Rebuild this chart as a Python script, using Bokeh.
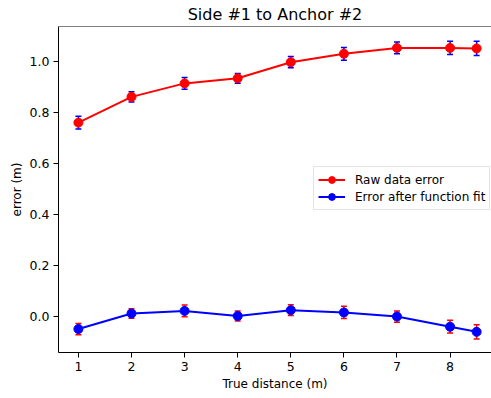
import math
from bokeh.plotting import figure
from bokeh.models import (ColumnDataSource, Whisker, TeeHead, Legend, LegendItem,
                          FixedTicker, Span)
from bokeh.embed import file_html
from bokeh.resources import INLINE

# ---- data ----
true_distance = [1, 2, 3, 4, 5, 6, 7, 8, 8.5]
raw_error = [0.761, 0.862, 0.915, 0.935, 0.998, 1.031, 1.054, 1.054, 1.052]
raw_std = [0.025, 0.020, 0.023, 0.019, 0.022, 0.025, 0.023, 0.026, 0.028]
fit_error = [-0.048, 0.013, 0.023, 0.003, 0.026, 0.017, 0.001, -0.039, -0.059]
fit_std = [0.022, 0.019, 0.023, 0.020, 0.021, 0.024, 0.022, 0.025, 0.028]
xticks = [1, 2, 3, 4, 5, 6, 7, 8]
yticks = [0.0, 0.2, 0.4, 0.6, 0.8, 1.0]
ytick_labels = ["0.0", "0.2", "0.4", "0.6", "0.8", "1.0"]
title = "Side #1 to Anchor #2"
xlabel = "True distance (m)"
ylabel = "error (m)"
series_names = ["Raw data error", "Error after function fit"]

FONT = "DejaVu Sans"
Y0, Y1 = -0.140, 1.138

p = figure(width=491, height=398, x_range=(0.625, 8.78), y_range=(Y0, Y1),
           output_backend="svg", toolbar_location=None, title=title,
           min_border_left=58, min_border_right=0, min_border_top=25,
           min_border_bottom=46)
p.background_fill_color = "white"
p.border_fill_color = "white"
p.outline_line_color = None
p.xgrid.visible = False
p.ygrid.visible = False

p.title.text_font = FONT
p.title.text_font_style = "normal"
p.title.text_font_size = "16px"
p.title.text_color = "black"
p.title.align = "center"
p.title.standoff = 5
p.title.offset = 3

for ax in (p.xaxis, p.yaxis):
    ax.axis_line_color = "black"
    ax.axis_line_width = 1
    ax.major_tick_line_color = "black"
    ax.major_tick_out = 5
    ax.major_tick_in = 0
    ax.minor_tick_line_color = None
    ax.major_label_text_font = FONT
    ax.major_label_text_font_size = "12.5px"
    ax.major_label_text_color = "black"
    ax.axis_label_text_font = FONT
    ax.axis_label_text_font_size = "12px"
    ax.axis_label_text_font_style = "normal"
    ax.axis_label_text_color = "black"
    ax.major_label_standoff = 4

p.xaxis.ticker = FixedTicker(ticks=xticks)
p.yaxis.ticker = FixedTicker(ticks=yticks)
p.yaxis.major_label_overrides = {t: l for t, l in zip(yticks, ytick_labels)}
p.xaxis.axis_label = xlabel
p.yaxis.axis_label = ylabel
p.xaxis.axis_label_standoff = 3
p.yaxis.axis_label_standoff = 3

p.add_layout(Span(location=Y1, dimension="width", line_color="black", line_width=1))


def series(y, err, color, bar_color):
    src = ColumnDataSource(dict(x=true_distance, y=y,
                                lo=[a - b for a, b in zip(y, err)],
                                hi=[a + b for a, b in zip(y, err)]))
    wh = Whisker(source=src, base="x", lower="lo", upper="hi",
                 line_color=bar_color, line_width=1.5,
                 upper_head=TeeHead(size=6, line_color=bar_color, line_width=1.5),
                 lower_head=TeeHead(size=6, line_color=bar_color, line_width=1.5))
    p.add_layout(wh)
    ln = p.line("x", "y", source=src, line_color=color, line_width=2)
    bar = p.scatter("x", "y", source=src, marker="dash", angle=math.pi / 2,
                    size=6, line_color=bar_color, line_width=1.5)
    dot = p.scatter("x", "y", source=src, marker="circle", size=9,
                    fill_color=color, line_color=color)
    return [ln, bar, dot]


r1 = series(raw_error, raw_std, "red", "blue")
r2 = series(fit_error, fit_std, "blue", "red")

legend = Legend(items=[LegendItem(label=series_names[0], renderers=r1),
                       LegendItem(label=series_names[1], renderers=r2)],
                location=(255, 142), margin=0, padding=4, spacing=0,
                glyph_width=27, glyph_height=17, label_height=17,
                label_standoff=10,
                label_text_font=FONT, label_text_font_size="12px",
                label_text_color="black",
                border_line_color="#cccccc", border_line_width=1,
                background_fill_color="white", background_fill_alpha=0.8)
p.add_layout(legend)

open("out.html", "w").write(file_html(p, INLINE))
